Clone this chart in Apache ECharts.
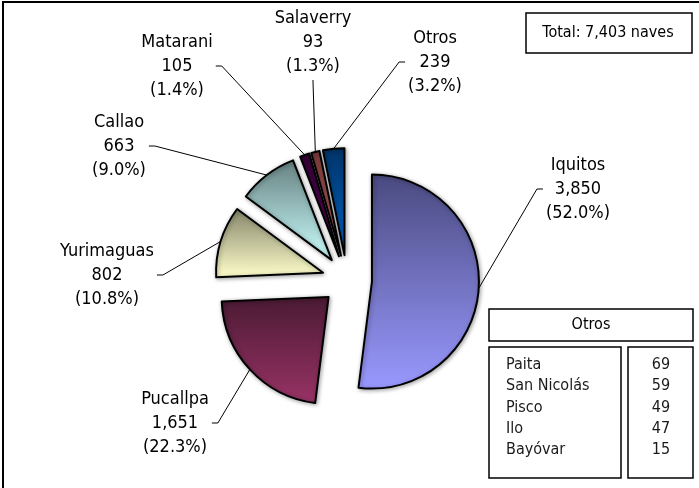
<!DOCTYPE html>
<html>
<head>
<meta charset="utf-8">
<script src="https://cdn.jsdelivr.net/npm/echarts@6/dist/echarts.min.js"></script>
<style>
html, body { margin: 0; padding: 0; background: #fff; }
#chart { width: 699px; height: 488px; }
</style>
</head>
<body>
<div id="chart"></div>
<script>
// datos del gráfico
var ports = ['Iquitos', 'Pucallpa', 'Yurimaguas', 'Callao', 'Matarani', 'Salaverry', 'Otros'];
var naves = [3850, 1651, 802, 663, 105, 93, 239];
var otrosPuertos = ['Paita', 'San Nicolás', 'Pisco', 'Ilo', 'Bayóvar'];
var otrosNaves = [69, 59, 49, 47, 15];

// colores: arriba oscuro, abajo claro
var bottomColors = ['#9999ff', '#993366', '#ffffcc', '#ccffff', '#660066', '#cc6666', '#0066cc'];
var topColors = ['#4a4a80', '#4a1a33', '#85856a', '#668080', '#330033', '#7a3a3a', '#003366'];

// donde van las etiquetas (centro del bloque)
var labelSpots = [[578, 189], [175, 423], [107, 275], [119, 146], [177, 66], [313, 42], [435, 62]];

var total = naves.reduce(function (a, b) { return a + b; }, 0);

var pieCenter = [347, 280];
var pieRadius = 107;
var explode = 25;

function fmt(n) {
    return n.toLocaleString('en-US');
}

var font = '"DejaVu Sans Condensed", "DejaVu Sans"';

var dom = document.getElementById('chart');
var myChart = echarts.init(dom);

var pieData = ports.map(function (p, i) {
    return {
        name: p,
        value: naves[i],
        selected: true,
        itemStyle: {
            color: {
                type: 'linear', x: 0, y: 0, x2: 0, y2: 1,
                colorStops: [
                    {offset: 0, color: topColors[i]},
                    {offset: 1, color: bottomColors[i]}
                ]
            }
        }
    };
});

// serie invisible solo para etiquetas (radio = borde de la porción separada)
var labelData = ports.map(function (p, i) {
    return {name: p, value: naves[i]};
});

// cuadro total y tabla de "Otros"
var graphics = [
    {type: 'rect', shape: {x: 3, y: 2, width: 720, height: 520}, style: {fill: 'none', stroke: '#000', lineWidth: 2}, z: 0},
    {type: 'rect', shape: {x: 526, y: 13, width: 166, height: 40}, style: {fill: '#fff', stroke: '#000', lineWidth: 1.5}},
    {type: 'text', x: 608, y: 33, style: {text: 'Total: ' + fmt(total) + ' naves', font: '16px ' + font, fill: '#000', align: 'center', verticalAlign: 'middle'}},
    {type: 'rect', shape: {x: 489, y: 309, width: 204, height: 32}, style: {fill: '#fff', stroke: '#000', lineWidth: 1.5}},
    {type: 'text', x: 591, y: 325, style: {text: 'Otros', font: '16px ' + font, fill: '#000', align: 'center', verticalAlign: 'middle'}},
    {type: 'rect', shape: {x: 489, y: 347, width: 132, height: 131}, style: {fill: '#fff', stroke: '#000', lineWidth: 1.5}},
    {type: 'rect', shape: {x: 628, y: 347, width: 65, height: 131}, style: {fill: '#fff', stroke: '#000', lineWidth: 1.5}}
];
otrosPuertos.forEach(function (p, i) {
    var y = 365 + i * 21.3;
    graphics.push({type: 'text', x: 506, y: y, style: {text: p, font: '16px ' + font, fill: '#1a1a1a', verticalAlign: 'middle'}});
    graphics.push({type: 'text', x: 661, y: y, style: {text: String(otrosNaves[i]), font: '16px ' + font, fill: '#1a1a1a', align: 'center', verticalAlign: 'middle'}});
});

// línea guía al estilo Excel: tramo corto horizontal junto al texto
function guideLine(p, s) {
    var a = p.labelLinePoints ? p.labelLinePoints[0] : null;
    if (!a) return null;
    var w = p.labelRect.width, h = p.labelRect.height;
    if (Math.abs(a[0] - s[0]) < w / 2) {
        var by = s[1] + h / 2 + 2;
        return [a, [s[0], by + 2], [s[0], by]];
    }
    if (a[0] > s[0]) {
        var ex = s[0] + w / 2 + 3;
        return [a, [ex + 6, s[1]], [ex, s[1]]];
    }
    var lx = s[0] - w / 2 - 3;
    return [a, [lx - 6, s[1]], [lx, s[1]]];
}

var option = {
    backgroundColor: '#fff',
    animation: false,
    graphic: graphics,
    series: [
        {
            type: 'pie',
            center: pieCenter,
            radius: pieRadius,
            startAngle: 90,
            clockwise: true,
            selectedMode: 'multiple',
            selectedOffset: explode,
            avoidLabelOverlap: false,
            data: pieData,
            itemStyle: {
                borderColor: '#000',
                borderWidth: 2,
                shadowBlur: 4,
                shadowColor: 'rgba(0,0,0,0.35)',
                shadowOffsetX: 1,
                shadowOffsetY: 1
            },
            label: {show: false},
            labelLine: {show: false},
            emphasis: {disabled: true}
        },
        {
            type: 'pie',
            center: pieCenter,
            radius: pieRadius + explode,
            startAngle: 90,
            clockwise: true,
            silent: true,
            avoidLabelOverlap: false,
            z: 1,
            data: labelData,
            itemStyle: {color: 'rgba(0,0,0,0)', borderWidth: 0},
            label: {
                show: true,
                position: 'outside',
                fontFamily: font,
                fontSize: 18,
                lineHeight: 24,
                color: '#000',
                align: 'center',
                formatter: function (p) {
                    return p.name + '\n' + fmt(p.value) + '\n(' + (p.value / total * 100).toFixed(1) + '%)';
                }
            },
            labelLine: {
                show: true,
                length: 10,
                length2: 6,
                lineStyle: {color: '#000', width: 1}
            },
            labelLayout: function (p) {
                var s = labelSpots[p.dataIndex];
                var res = {x: s[0], y: s[1], align: 'center', verticalAlign: 'middle'};
                var pts = guideLine(p, s);
                if (pts) res.labelLinePoints = pts;
                return res;
            },
            emphasis: {disabled: true}
        }
    ]
};

if (option && typeof option === "object") {
    myChart.setOption(option, true);
}
</script>
</body>
</html>
